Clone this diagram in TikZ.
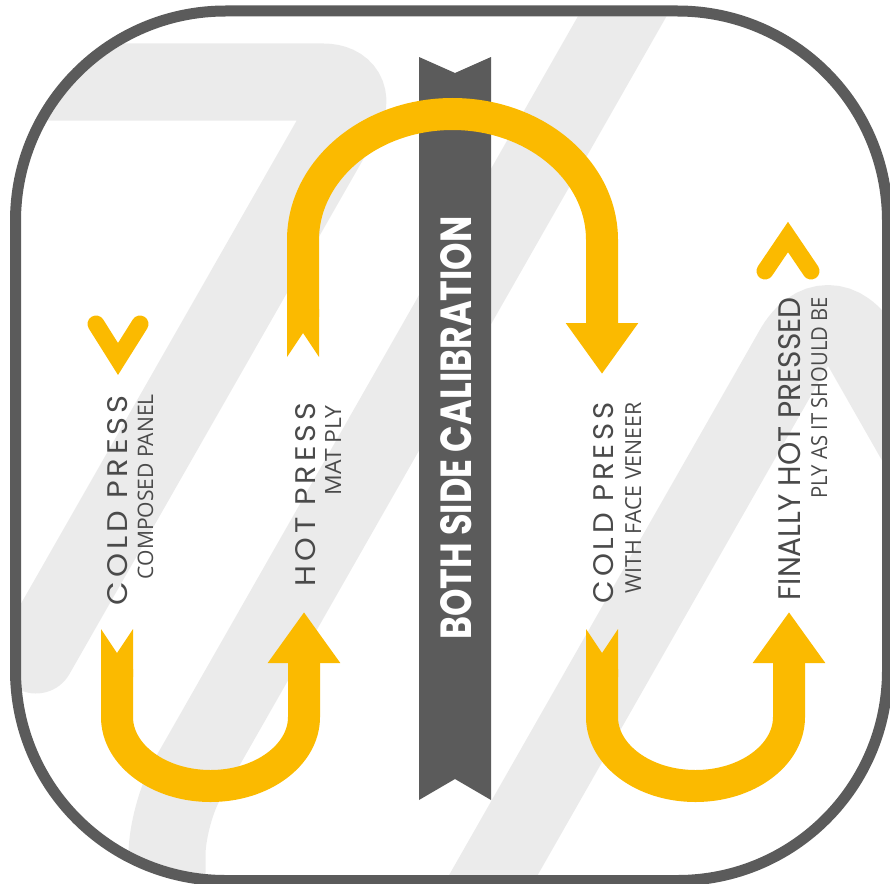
\documentclass[tikz,border=0pt]{standalone}
\usepackage{fontspec}
\setmainfont{Open Sans}
\newfontfamily\pressfont[LetterSpace=13]{Poppins}
\newfontfamily\headfont{Poppins}
\usepackage{xcolor}
\usetikzlibrary{arrows.meta}

\definecolor{plyyellow}{HTML}{FBBA00}
\definecolor{plygray}{HTML}{5B5B5B}
\definecolor{stripegray}{HTML}{EBEBEB}
\definecolor{textgray}{HTML}{4A4A4A}

\newcommand{\fitlabel}[3]{\resizebox{#1pt}{#2pt}{#3}}

\begin{document}
\begin{tikzpicture}[x=1pt, y=-1pt,
    stripe/.style={stripegray, line width=77pt, line cap=round},
    flow/.style={plyyellow, line width=32pt,
      {Triangle Cap[reversed, length=24pt]}-{Triangle[width=69pt, length=51pt]}},
    chevron/.style={plyyellow, line width=17pt, line cap=round},
    stage/.style={rotate=90, anchor=base east, inner sep=0pt, text=textgray, font=\pressfont},
    note/.style={rotate=90, anchor=base east, inner sep=0pt, text=textgray}]
    \useasboundingbox (0,0) rectangle (890,883);

    % background stripes
    \begin{scope}
        \clip[rounded corners=204.5pt] (21,16.5) rectangle (882,875);
        \draw[stripe, rounded corners=40pt] (-50,82) -- (363,82) -- (36,655);
        \draw[stripe, rounded corners=40pt] (660,-50) -- (167,815) -- (167,950);
        \draw[stripe, rounded corners=70pt] (429,988) -- (828,288) -- (1056,688);
    \end{scope}
    \draw[plygray, line width=11pt, rounded corners=210pt] (15.5,11) rectangle (887.5,880.5);

    % calibration banner
    \fill[plygray] (419,57) -- (455,73) -- (491,57) -- (491,800) -- (455,779) -- (419,800) -- cycle;
    \node (banner) [rotate=90, anchor=base, inner sep=0pt, text=white, font=\headfont\bfseries]
        at (471,428) {\fitlabel{423}{31}{BOTH SIDE CALIBRATION}};

    % stages
    \node (coldA) [stage] at (127,395) {\fitlabel{210}{20}{COLD PRESS}};
    \node (coldAnote) [note] at (153,394) {\fitlabel{185}{15.5}{COMPOSED PANEL}};
    \node (hot) [stage] at (315,403) {\fitlabel{183}{20}{HOT PRESS}};
    \node (hotnote) [note] at (341,405) {\fitlabel{90}{16}{MAT PLY}};
    \node (coldB) [stage] at (613,402) {\fitlabel{201}{20}{COLD PRESS}};
    \node (coldBnote) [note] at (641,402) {\fitlabel{191}{16}{WITH FACE VENEER}};
    \node (final) [stage, font=\headfont] at (800,297) {\fitlabel{303}{22}{FINALLY HOT PRESSED}};
    \node (finalnote) [note] at (827,297) {\fitlabel{201}{16}{PLY AS IT SHOULD BE}};

    \coordinate (tailA) at (303,357);
    \coordinate (tipA) at (602,374);
    \coordinate (tailB) at (117,629);
    \coordinate (tipB) at (304,612);
    \coordinate (tailC) at (602,629);
    \coordinate (tipC) at (789,612);

    \draw[flow] (tailA) -- (303,240) arc[start angle=180, end angle=360, x radius=149.5, y radius=126] -- (tipA);
    \draw[flow] (tailB) -- (117,717) arc[start angle=180, end angle=0, x radius=93.5, y radius=69] -- (tipB);
    \draw[flow] (tailC) -- (602,717) arc[start angle=180, end angle=0, x radius=93.5, y radius=69] -- (tipC);

    \draw[chevron] (96,324) -- (118,359) -- (140,324);
    \draw[chevron] (765,271) -- (788,237) -- (811,271);
\end{tikzpicture}
\end{document}
